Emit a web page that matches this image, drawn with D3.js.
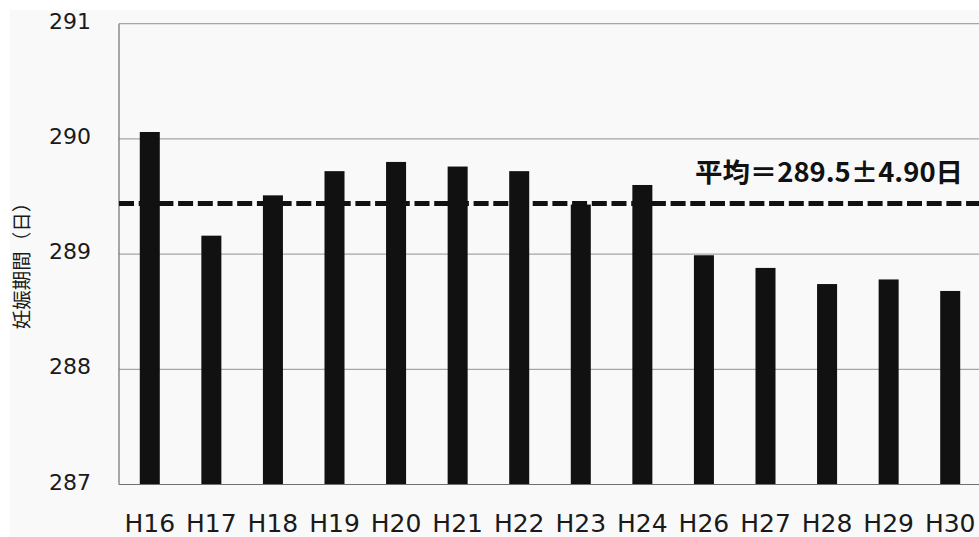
<!DOCTYPE html>
<html><head><meta charset="utf-8">
<script src="https://cdn.jsdelivr.net/npm/d3@7/dist/d3.min.js"></script>
<style>
html,body{margin:0;padding:0;background:#fff;}
svg{display:block;}
</style></head>
<body>
<svg id="chart" width="979" height="537"></svg>
<script>
const categories = ["H16","H17","H18","H19","H20","H21","H22","H23","H24","H26","H27","H28","H29","H30"];
const values = [290.06,289.16,289.51,289.72,289.80,289.76,289.72,289.43,289.60,288.99,288.88,288.74,288.78,288.68];
const yTicks = [287,288,289,290,291];
const meanValue = 289.44;
const meanLabel = "平均＝289.5±4.90日";
const yTitle = "妊娠期間（日）";

(function(){
const svg = d3.select("#chart");
svg.append("rect").attr("x",10).attr("y",10).attr("width",969).attr("height",527).attr("fill","#f9f9f9");

const mLeft = 119, mRight = 981, mTop = 23.7, mBottom = 484.5;
const x = d3.scaleBand().domain(categories).range([mLeft,mRight]).paddingInner(0.675).paddingOuter(0.3375);
const y = d3.scaleLinear().domain([287,291]).range([mBottom,mTop]);

// gridlines
svg.append("g").selectAll("line").data(yTicks.filter(d=>d>287)).join("line")
  .attr("x1",mLeft).attr("x2",979).attr("y1",d=>y(d)).attr("y2",d=>y(d))
  .attr("stroke","#a6a6a6").attr("stroke-width",1.3);

// y tick labels
svg.append("g").selectAll("text").data(yTicks).join("text")
  .attr("x",91).attr("y",d=>y(d)+5)
  .attr("text-anchor","end")
  .attr("font-family","DejaVu Sans").attr("font-size",22).attr("fill","#1a1a1a")
  .text(d=>d);

// bars
svg.append("g").selectAll("rect").data(values).join("rect")
  .attr("x",(d,i)=>x(categories[i]))
  .attr("width",x.bandwidth())
  .attr("y",d=>y(d))
  .attr("height",d=>y(287)-y(d))
  .attr("fill","#111");

// axes lines
svg.append("line").attr("x1",mLeft).attr("x2",mLeft).attr("y1",mTop).attr("y2",mBottom).attr("stroke","#707070").attr("stroke-width",1.2);
svg.append("line").attr("x1",mLeft).attr("x2",979).attr("y1",mBottom).attr("y2",mBottom).attr("stroke","#707070").attr("stroke-width",1.2);

// mean dashed line
svg.append("line").attr("x1",mLeft).attr("x2",979).attr("y1",y(meanValue)).attr("y2",y(meanValue))
  .attr("stroke","#111").attr("stroke-width",5).attr("stroke-dasharray","15,4.7");

// mean label
svg.append("text").attr("x",695).attr("y",182)
  .attr("font-family","'Noto Sans CJK JP'").attr("font-weight","bold").attr("font-size",26.5)
  .attr("textLength",268).attr("lengthAdjust","spacingAndGlyphs")
  .attr("fill","#111").text(meanLabel);

// x labels
svg.append("g").selectAll("text").data(categories).join("text")
  .attr("x",d=>x(d)+x.bandwidth()/2).attr("y",531.5)
  .attr("text-anchor","middle")
  .attr("font-family","DejaVu Sans").attr("font-size",25).attr("fill","#1a1a1a")
  .text(d=>d);

// y title
svg.append("text").attr("transform","translate(29,261) rotate(-90)")
  .attr("text-anchor","middle")
  .attr("font-family","'Noto Sans CJK JP'").attr("font-size",19.5).attr("fill","#1a1a1a")
  .text(yTitle);
})();
</script>
</body></html>
